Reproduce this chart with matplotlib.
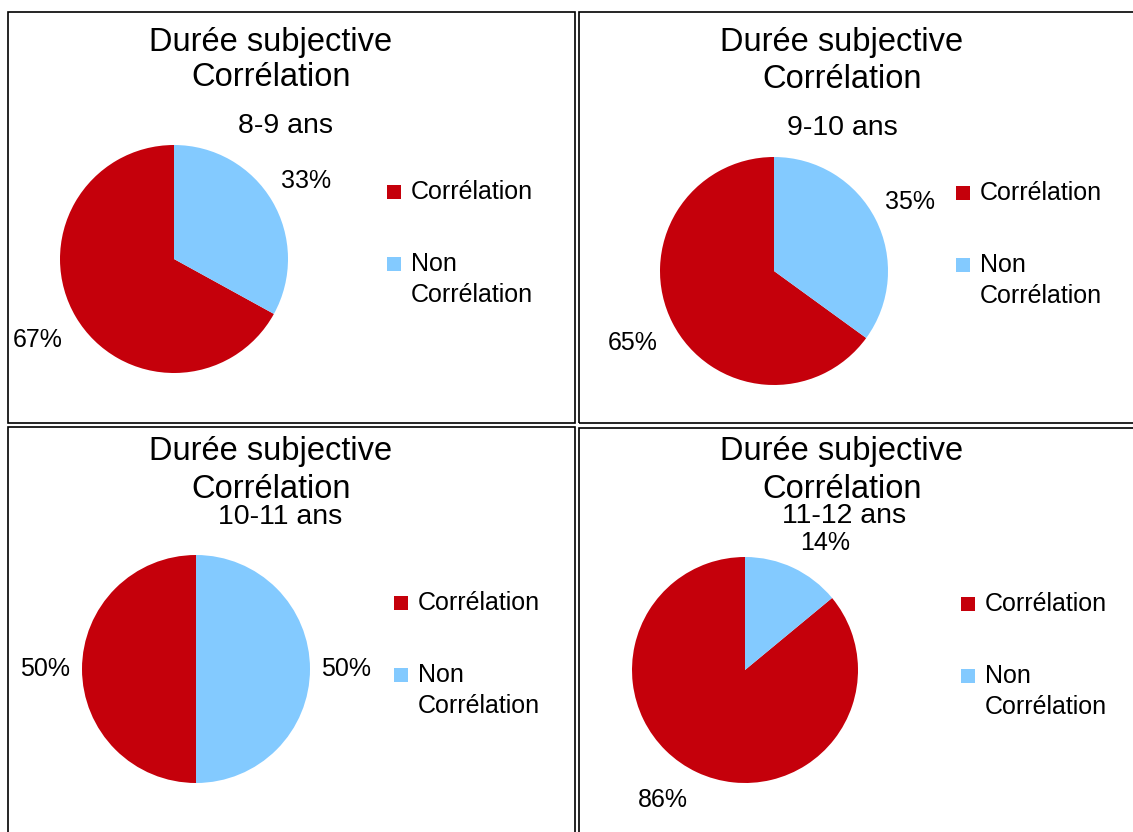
import matplotlib
matplotlib.use("Agg")
import numpy as np
import matplotlib.pyplot as plt
from matplotlib.patches import Rectangle

plt.rcParams['font.family'] = ['Liberation Sans', 'DejaVu Sans']

# data
categories = ["Corrélation", "Non\nCorrélation"]
age_groups = ["8-9 ans", "9-10 ans", "10-11 ans", "11-12 ans"]
correlation = [67, 65, 50, 86]
non_correlation = [33, 35, 50, 14]
colors = ["#C5000B", "#83CAFF"]

W, H = 1133, 832
fig = plt.figure(figsize=(W / 100, H / 100), dpi=100)


def fx(x):
    return x / W


def fy(y):
    return 1 - y / H


# panel layout in pixels (origin top-left)
panels = [
    dict(box=(8, 12, 575, 423), pie=(174, 259, 114), tx=271, ty=(43, 78), sub=(286, 126),
         leg=(387, 192), pd=(1.39, 1.35), rot=0),
    dict(box=(579, 12, 1140, 423), pie=(774, 271, 114), tx=842, ty=(43, 79), sub=(842, 128),
         leg=(956, 193), pd=(1.39, 1.34), rot=0),
    dict(box=(8, 427, 575, 840), pie=(196, 669, 114), tx=271, ty=(452, 490), sub=(280, 517),
         leg=(394, 603), pd=(1.32, 1.32), rot=0),
    dict(box=(579, 428, 1140, 840), pie=(745, 670, 113), tx=842, ty=(452, 490), sub=(844, 516),
         leg=(961, 604), pd=(1.36, 1.33), rot=-7),
]

for i, p in enumerate(panels):
    x0, y0, x1, y1 = p["box"]
    fig.patches.append(Rectangle((fx(x0), fy(y1)), fx(x1 - x0), (y1 - y0) / H,
                                 transform=fig.transFigure, fill=False,
                                 edgecolor="black", linewidth=1.2))

    cx, cy, r = p["pie"]
    ax = fig.add_axes([fx(cx - r), fy(cy + r), 2 * r / W, 2 * r / H])
    vals = [correlation[i], non_correlation[i]]
    wedges, texts, autotexts = ax.pie(vals, colors=colors, startangle=90,
                                      autopct='%1.0f%%', pctdistance=1.35,
                                      wedgeprops=dict(linewidth=0),
                                      textprops=dict(fontsize=18, color="black"))
    # place the percentage labels outside, like the original
    for w, t, d in zip(wedges, autotexts, p["pd"]):
        ang = np.deg2rad((w.theta1 + w.theta2) / 2 + p["rot"])
        t.set_position((d * np.cos(ang), d * np.sin(ang)))
    ax.set_xlim(-1, 1)
    ax.set_ylim(-1, 1)
    ax.set_aspect("equal")
    ax.axis("off")

    fig.text(fx(p["tx"]), fy(p["ty"][0]), "Durée subjective", fontsize=23.5,
             ha="center", va="center")
    fig.text(fx(p["tx"]), fy(p["ty"][1]), "Corrélation", fontsize=23.5,
             ha="center", va="center")
    fig.text(fx(p["sub"][0]), fy(p["sub"][1]), age_groups[i], fontsize=20.5,
             ha="center", va="center")

    lx, ly = p["leg"]
    for j, cat in enumerate(categories):
        yy = ly + j * 72
        fig.patches.append(Rectangle((fx(lx), fy(yy + 7)), 14 / W, 14 / H,
                                     transform=fig.transFigure, facecolor=colors[j],
                                     edgecolor="none"))
        for k, line in enumerate(cat.split("\n")):
            fig.text(fx(lx + 24), fy(yy + k * 31), line, fontsize=18,
                     ha="left", va="center")

fig.savefig("out.png", dpi=100, facecolor="white")
